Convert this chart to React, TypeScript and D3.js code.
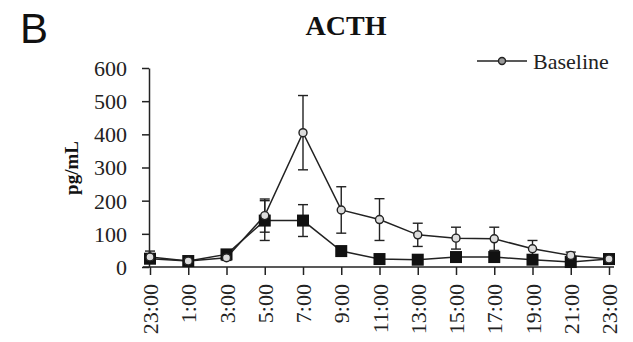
import React, { useEffect, useRef } from 'react';
import * as d3 from 'd3';

const times = ['23:00', '1:00', '3:00', '5:00', '7:00', '9:00', '11:00', '13:00', '15:00', '17:00', '19:00', '21:00', '23:00'];
const baseline = [30, 18, 28, 155, 405, 172, 143, 97, 87, 85, 55, 35, 24];
const baselineErr = [18, 5, 8, 50, 112, 70, 63, 35, 33, 35, 25, 10, 5];
const treated = [25, 18, 38, 140, 140, 48, 24, 22, 30, 30, 22, 15, 24];
const treatedErr = [8, 4, 8, 60, 48, 8, 5, 4, 5, 5, 4, 4, 4];
const yTicks = [0, 100, 200, 300, 400, 500, 600];

const App = () => {
  const ref = useRef<SVGSVGElement>(null);

  useEffect(() => {
    const svg = d3.select(ref.current);
    svg.selectAll('*').remove();
    const font = '"Liberation Serif", "Times New Roman", serif';

    const x = d3.scalePoint<number>().domain(d3.range(times.length)).range([150, 609]);
    const y = d3.scaleLinear().domain([0, 600]).range([267, 68]);

    // panel letter and title
    svg.append('text').attr('x', 20).attr('y', 43).attr('font-family', 'Liberation Sans, Arial, sans-serif')
      .attr('font-size', 42).attr('fill', '#111').text('B');
    svg.append('text').attr('x', 346).attr('y', 35).attr('text-anchor', 'middle').attr('font-family', font)
      .attr('font-weight', 'bold').attr('font-size', 28).attr('fill', '#111').text('ACTH');

    // y axis
    const yAxis = svg.append('g').attr('transform', 'translate(149,0)')
      .call(d3.axisLeft(y).tickValues(yTicks).tickSize(7).tickSizeOuter(0));
    yAxis.select('.domain').attr('stroke', '#222').attr('stroke-width', 1.5);
    yAxis.selectAll('line').attr('stroke', '#222').attr('stroke-width', 1.5);
    yAxis.selectAll('text').attr('font-family', font).attr('font-size', 22).attr('fill', '#222')
      .attr('x', -22).attr('dy', '0.34em');

    svg.append('text').attr('transform', 'translate(78,168) rotate(-90)').attr('text-anchor', 'middle')
      .attr('font-family', font).attr('font-weight', 'bold').attr('font-size', 19).attr('fill', '#111').text('pg/mL');

    // x axis
    const xAxis = svg.append('g').attr('transform', 'translate(0,267)')
      .call(d3.axisBottom(x).tickFormat((i) => times[i as number]).tickSize(8).tickSizeOuter(0));
    xAxis.select('.domain').attr('d', 'M143,0H614').attr('stroke', '#222').attr('stroke-width', 1.5);
    xAxis.selectAll('line').attr('stroke', '#222').attr('stroke-width', 1.5);
    xAxis.selectAll('text').attr('font-family', font).attr('font-size', 22).attr('fill', '#222')
      .attr('transform', 'rotate(-90)').attr('text-anchor', 'end').attr('x', -17).attr('y', 0).attr('dy', '0.35em');

    const line = d3.line<number>().x((_, i) => x(i) as number).y((d) => y(d));

    const drawErr = (vals: number[], errs: number[]) => {
      const g = svg.append('g').attr('stroke', '#222').attr('stroke-width', 1.4);
      vals.forEach((v, i) => {
        const cx = x(i) as number;
        g.append('line').attr('x1', cx).attr('x2', cx).attr('y1', y(v - errs[i])).attr('y2', y(v + errs[i]));
        g.append('line').attr('x1', cx - 5).attr('x2', cx + 5).attr('y1', y(v + errs[i])).attr('y2', y(v + errs[i]));
        g.append('line').attr('x1', cx - 5).attr('x2', cx + 5).attr('y1', y(v - errs[i])).attr('y2', y(v - errs[i]));
      });
    };

    drawErr(baseline, baselineErr);
    drawErr(treated, treatedErr);

    svg.append('path').datum(baseline).attr('d', line).attr('fill', 'none').attr('stroke', '#222').attr('stroke-width', 1.5);
    svg.append('path').datum(treated).attr('d', line).attr('fill', 'none').attr('stroke', '#222').attr('stroke-width', 1.5);

    svg.append('g').selectAll('rect').data(treated).join('rect')
      .attr('x', (_, i) => (x(i) as number) - 6).attr('y', (d) => y(d) - 6)
      .attr('width', 12).attr('height', 12).attr('fill', '#111');

    svg.append('g').selectAll('circle').data(baseline).join('circle')
      .attr('cx', (_, i) => x(i) as number).attr('cy', (d) => y(d)).attr('r', 4)
      .attr('fill', '#ddd').attr('stroke', '#222').attr('stroke-width', 1.4);

    // legend
    const lg = svg.append('g');
    lg.append('line').attr('x1', 477).attr('x2', 527).attr('y1', 61).attr('y2', 61).attr('stroke', '#222').attr('stroke-width', 1.5);
    lg.append('circle').attr('cx', 502).attr('cy', 61).attr('r', 3.5).attr('fill', '#999').attr('stroke', '#222').attr('stroke-width', 1.4);
    lg.append('text').attr('x', 533).attr('y', 69).attr('font-family', font).attr('font-size', 22).attr('fill', '#222').text('Baseline');
  }, []);

  return (
    <svg ref={ref} width={633} height={342} style={{ position: 'absolute', left: 0, top: 0, background: '#fff' }} />
  );
};

export default App;
